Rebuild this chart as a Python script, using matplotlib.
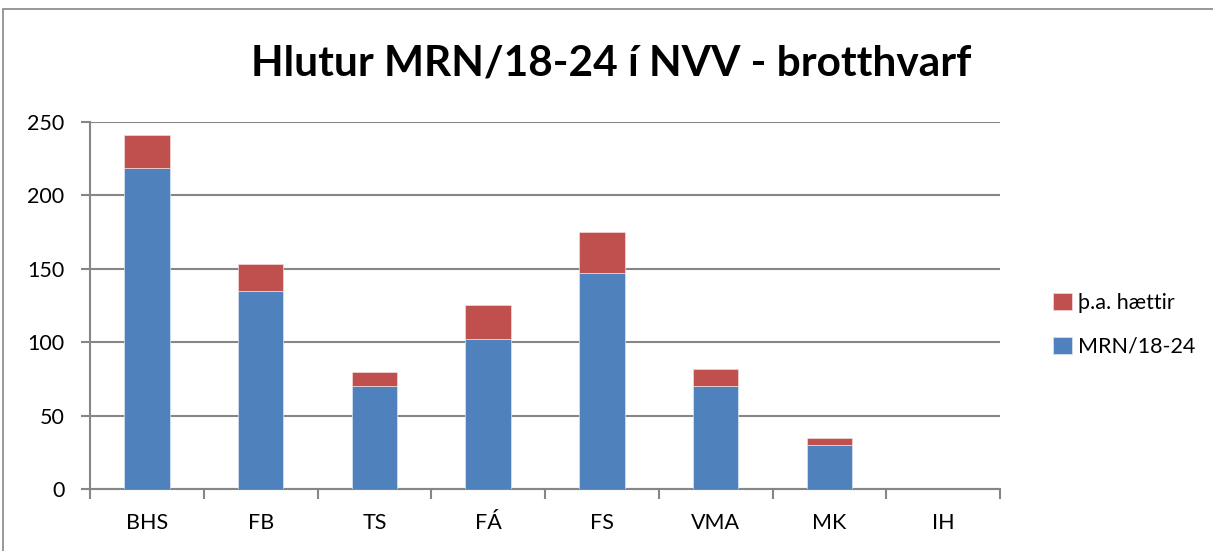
import numpy as np
import matplotlib.pyplot as plt
from matplotlib.patches import Rectangle

skolar = ['BHS', 'FB', 'TS', 'FÁ', 'FS', 'VMA', 'MK', 'IH']
mrn = [219, 135, 70, 102, 147, 70, 30, 0]
haettir = [22, 18, 10, 23, 28, 12, 5, 0]

blue = '#4F81BD'
red = '#C0504D'
grey = '#868686'

plt.rcParams['font.family'] = ['Lato', 'DejaVu Sans']

fig = plt.figure(figsize=(12.13, 5.51), dpi=100)
ax = fig.add_axes([90/1213, 1-489/551, 910/1213, 367/551])

# chart frame
fig.patches.append(Rectangle((3/1213, -0.1), 1.2, 1-9/551+0.1, transform=fig.transFigure,
                             fill=False, edgecolor=grey, linewidth=1.2))

x = np.arange(len(skolar))
b1 = ax.bar(x, mrn, width=0.4, color=blue, edgecolor='#DCE6F2', linewidth=0.5, zorder=3, label='MRN/18-24')
b2 = ax.bar(x, haettir, width=0.4, bottom=mrn, color=red, edgecolor='#F2DCDB', linewidth=0.5, zorder=3, label='þ.a. hættir')

ax.set_xlim(-0.5, len(skolar)-0.5)
ax.set_ylim(0, 250)
ax.set_yticks(range(0, 251, 50))
ax.set_xticks(x)
ax.set_xticklabels(skolar)
ax.set_xticks(np.arange(-0.5, len(skolar), 1), minor=True)
ax.tick_params(axis='x', which='major', length=0, labelsize=15.5, pad=17)
ax.tick_params(axis='x', which='minor', length=7, color=grey, width=1.5, direction='out')
ax.tick_params(axis='y', length=6.5, color=grey, width=1.5, labelsize=15.5, pad=12)
ax.grid(axis='y', color=grey, linewidth=1.5, zorder=0)

for s in ['top', 'right']:
    ax.spines[s].set_visible(False)
for s in ['left', 'bottom']:
    ax.spines[s].set_color(grey)
    ax.spines[s].set_linewidth(1.5)

fig.suptitle('Hlutur MRN/18-24 í NVV - brotthvarf', x=611/1213, y=1-64/551, va='center',
             fontsize=30.5, fontweight='bold')

ax.legend(handles=[b2, b1], loc='center left', bbox_to_anchor=(1034/1213, 1-325/551),
          bbox_transform=fig.transFigure, frameon=False, fontsize=15.5,
          handlelength=0.85, handleheight=0.85, labelspacing=1.1, handletextpad=0.3)

fig.savefig('out.png', dpi=100)
